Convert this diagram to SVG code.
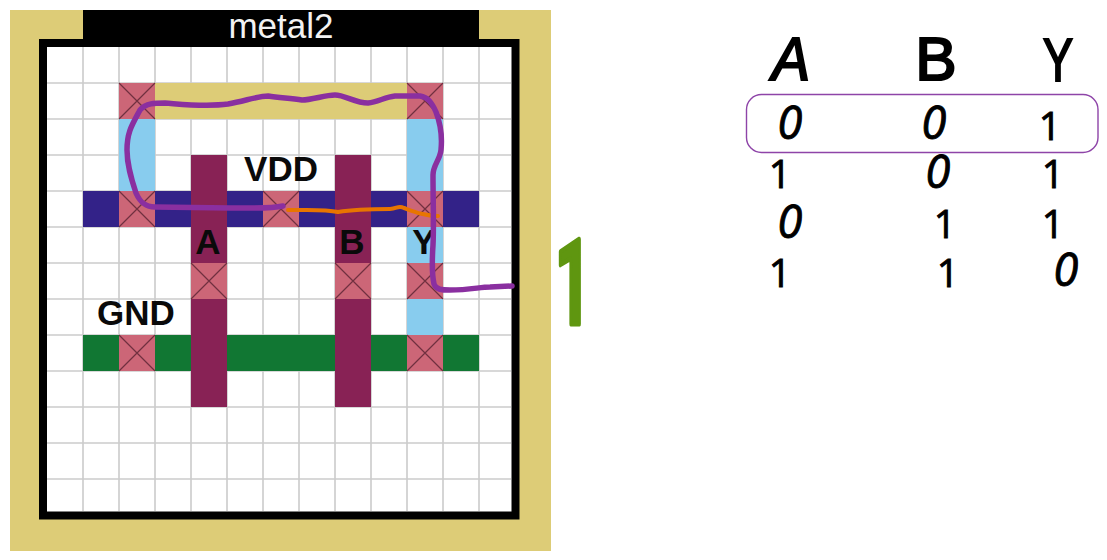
<svg xmlns="http://www.w3.org/2000/svg" width="1107" height="560" viewBox="0 0 1107 560">
<defs>
<style>
.lbl{font-family:"Liberation Sans",Arial,sans-serif;font-weight:700;fill:#0a0a0a;text-anchor:middle;font-size:35px}
.hw{font-family:"Open Sans","Liberation Sans",sans-serif;fill:#000;text-anchor:middle;font-size:39px;stroke:#000;stroke-width:.9px}
.zero{font-style:italic;font-size:45px}
.head{font-family:"Liberation Sans",Arial,sans-serif;font-size:62px;stroke-width:2.2px}
.trace{fill:none;stroke-linecap:round;stroke-linejoin:round}
.grid line{stroke:#cbcbcb;stroke-width:1.6}
</style>
<g id="via"><rect width="36" height="36" fill="#cc6677"/><path d="M0 0L36 36M36 0L0 36" stroke="#70303f" stroke-width="1.2" fill="none"/></g>
</defs>
<rect width="1107" height="560" fill="#fff"/>
<g id="frame">
<rect x="10" y="10" width="541" height="541" fill="#ddcc77"/>
<rect x="43" y="43" width="472.500" height="472.500" fill="#fff" stroke="#000" stroke-width="8"/>
<rect x="83" y="10" width="396" height="37" fill="#000"/>
<text x="281" y="38" font-family="'Liberation Sans',Arial,sans-serif" font-size="35" fill="#f2f2f2" text-anchor="middle">metal2</text>
</g>
<g class="grid" id="grid">
<line x1="83" y1="47" x2="83" y2="511"/><line x1="119" y1="47" x2="119" y2="511"/><line x1="155" y1="47" x2="155" y2="511"/><line x1="191" y1="47" x2="191" y2="511"/><line x1="227" y1="47" x2="227" y2="511"/><line x1="263" y1="47" x2="263" y2="511"/><line x1="299" y1="47" x2="299" y2="511"/><line x1="335" y1="47" x2="335" y2="511"/><line x1="371" y1="47" x2="371" y2="511"/><line x1="407" y1="47" x2="407" y2="511"/><line x1="443" y1="47" x2="443" y2="511"/><line x1="479" y1="47" x2="479" y2="511"/>
<line x1="47" y1="83" x2="511" y2="83"/><line x1="47" y1="119" x2="511" y2="119"/><line x1="47" y1="155" x2="511" y2="155"/><line x1="47" y1="191" x2="511" y2="191"/><line x1="47" y1="227" x2="511" y2="227"/><line x1="47" y1="263" x2="511" y2="263"/><line x1="47" y1="299" x2="511" y2="299"/><line x1="47" y1="335" x2="511" y2="335"/><line x1="47" y1="371" x2="511" y2="371"/><line x1="47" y1="407" x2="511" y2="407"/><line x1="47" y1="443" x2="511" y2="443"/><line x1="47" y1="479" x2="511" y2="479"/>
</g>
<g id="layers">
<rect id="metal2-strap" x="155" y="83" width="252" height="36" fill="#ddcc77"/>
<rect id="vdd-rail" x="83" y="191" width="396" height="36" fill="#332288"/>
<rect id="gnd-rail" x="83" y="335" width="396" height="36" fill="#117733"/>
<rect x="119" y="119" width="36" height="72" fill="#88ccee"/>
<rect x="407" y="119" width="36" height="72" fill="#88ccee"/>
<rect x="407" y="227" width="36" height="36" fill="#88ccee"/>
<rect x="407" y="299" width="36" height="36" fill="#88ccee"/>
<rect x="191" y="155" width="36" height="108" fill="#882255"/>
<rect x="191" y="299" width="36" height="108" fill="#882255"/>
<rect x="335" y="155" width="36" height="108" fill="#882255"/>
<rect x="335" y="299" width="36" height="108" fill="#882255"/>
</g>
<g id="vias">
<use href="#via" x="119" y="83"/><use href="#via" x="407" y="83"/>
<use href="#via" x="119" y="191"/><use href="#via" x="263" y="191"/><use href="#via" x="407" y="191"/>
<use href="#via" x="191" y="263"/><use href="#via" x="335" y="263"/><use href="#via" x="407" y="263"/>
<use href="#via" x="119" y="335"/><use href="#via" x="407" y="335"/>
</g>
<g id="labels">
<text class="lbl" x="281" y="181">VDD</text>
<text class="lbl" x="136" y="325">GND</text>
<text class="lbl" x="208" y="254">A</text>
<text class="lbl" x="352" y="254">B</text>
<text class="lbl" x="424" y="254">Y</text>
</g>
<g id="connectors">
<path class="trace" stroke="#e87500" stroke-width="4" d="M288 210C310 210 325 209 338 212C350 210 375 209 390 209C397 209 398 205 404 208C415 212 425 216 438 216"/>
<path class="trace" stroke="#8a2fa0" stroke-width="5.500" d="M283 206C270 209 250 208 230 208L155 207C145 207 140 202 136 193C131 178 127 165 127 150C127 132 132 125 140 110C146 103 155 103 165 103C180 104 205 107 228 104C245 101 258 96 268 96C280 98 290 98 302 100C312 100 325 95 335 95C345 95 355 103 368 103C378 102 385 97 395 96L420 96C428 97 432 103 436 112C441 125 442 140 441 150C440 160 433 165 433 175C433 200 434 225 433 245C432 260 432 275 434 284C436 290 442 290 450 290C470 290 480 287 490 287L512 286"/>
</g>
<g id="result-one"><text x="573" y="324" font-family="Roboto,'Open Sans',sans-serif" font-size="118" font-weight="700" fill="#5f9610" stroke="#5f9610" stroke-width="5" stroke-linejoin="round" text-anchor="middle" textLength="36" lengthAdjust="spacingAndGlyphs">1</text></g>
<g id="truth-table">
<rect id="row-highlight" x="746.500" y="94.500" width="351.500" height="58" rx="15" fill="none" stroke="#8e44a8" stroke-width="1.400"/>
<text class="hw head zero" x="791" y="80" textLength="38" lengthAdjust="spacingAndGlyphs">A</text>
<text class="hw head" x="936" y="80">B</text>
<text class="hw head" x="1058" y="81" textLength="30" lengthAdjust="spacingAndGlyphs">Y</text>
<text class="hw zero" x="790" y="139">0</text><text class="hw zero" x="934" y="139">0</text><text class="hw" x="1050" y="140">1</text>
<text class="hw" x="780" y="188">1</text><text class="hw zero" x="938" y="188">0</text><text class="hw" x="1053" y="188">1</text>
<text class="hw zero" x="790" y="238">0</text><text class="hw" x="945" y="238">1</text><text class="hw" x="1053" y="238">1</text>
<text class="hw" x="780" y="287">1</text><text class="hw" x="948" y="287">1</text><text class="hw zero" x="1066" y="286">0</text>
</g>
</svg>
